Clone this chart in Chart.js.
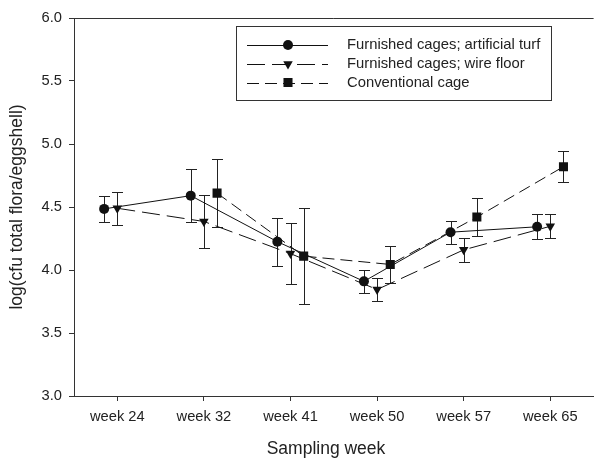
<!DOCTYPE html>
<html>
<head>
<meta charset="utf-8">
<script src="https://cdn.jsdelivr.net/npm/chart.js@4/dist/chart.umd.min.js"></script>
<style>
html,body{margin:0;padding:0;background:#fff;overflow:hidden;width:596px;height:459px;}
#wrap{width:600px;height:459px;}
</style>
</head>
<body>
<div id="wrap"><canvas id="c" width="600" height="459"></canvas></div>
<script>
const categories = ['week 24','week 32','week 41','week 50','week 57','week 65'];
const yTicks = [3.0, 3.5, 4.0, 4.5, 5.0, 5.5, 6.0];
const turf    = [4.485, 4.59, 4.225, 3.91, 4.30, 4.343];
const turfErr = [0.105, 0.21, 0.19, 0.09, 0.09, 0.10];
const wire    = [4.49, 4.385, 4.13, 3.845, 4.16, 4.347];
const wireErr = [0.13, 0.21, 0.24, 0.09, 0.095, 0.097];
const conv    = [null, 4.61, 4.11, 4.044, 4.42, 4.82];
const convErr = [null, 0.27, 0.38, 0.145, 0.15, 0.125];
const seriesLabels = ['Furnished cages; artificial turf','Furnished cages; wire floor','Conventional cage'];
const xTitle = 'Sampling week';
const yTitle = 'log(cfu total flora/eggshell)';

const FONT = "'Liberation Sans', Arial, Helvetica, sans-serif";
const INK = '#222';
const AXIS = '#333';

function pts(vals, shift){ return vals.map((v,i)=>({x:i+shift, y:v})); }

const errorBars = {
  id:'errorBars',
  beforeDatasetsDraw(chart){
    const ctx = chart.ctx, ys = chart.scales.y;
    ctx.save();
    ctx.strokeStyle = '#222';
    ctx.lineWidth = 1;
    chart.data.datasets.forEach((ds,di)=>{
      const meta = chart.getDatasetMeta(di);
      ds.errors.forEach((e,i)=>{
        const v = ds.data[i].y;
        if(v==null || e==null) return;
        const el = meta.data[i];
        const x = Math.round(el.x)+0.5;
        const t = Math.round(ys.getPixelForValue(v+e))+0.5;
        const b = Math.round(ys.getPixelForValue(v-e))+0.5;
        ctx.beginPath();
        ctx.moveTo(x,t); ctx.lineTo(x,b);
        ctx.moveTo(x-5.5,t); ctx.lineTo(x+5.5,t);
        ctx.moveTo(x-5.5,b); ctx.lineTo(x+5.5,b);
        ctx.stroke();
      });
    });
    ctx.restore();
  }
};

const frame = {
  id:'frame',
  afterDraw(chart){
    const ctx = chart.ctx, a = chart.chartArea;
    ctx.save();
    ctx.strokeStyle = AXIS; ctx.lineWidth = 1;
    ctx.beginPath();
    const top = Math.round(a.top)+0.5;
    ctx.moveTo(a.left, top); ctx.lineTo(a.right, top);
    ctx.stroke();
    // x axis title
    ctx.fillStyle = INK;
    ctx.font = "17.5px " + FONT;
    ctx.textAlign = 'center'; ctx.textBaseline = 'middle';
    ctx.fillText(xTitle, 326, 449);
    ctx.restore();
  }
};

const lineLegend = {
  id:'lineLegend',
  afterDraw(chart){
    const ctx = chart.ctx;
    ctx.save();
    ctx.strokeStyle = AXIS; ctx.lineWidth = 1;
    ctx.strokeRect(236.5, 26.5, 315, 74);
    const rows = [45, 64, 82.5];
    chart.data.datasets.forEach((ds,i)=>{
      const y = rows[i];
      ctx.strokeStyle = '#111'; ctx.lineWidth = 1;
      ctx.setLineDash(ds.borderDash || []);
      ctx.beginPath(); ctx.moveTo(247, Math.round(y)+0.5); ctx.lineTo(328, Math.round(y)+0.5); ctx.stroke();
      ctx.setLineDash([]);
      ctx.fillStyle = '#111';
      Chart.helpers.drawPoint(ctx, {pointStyle: ds.pointStyle, radius: ds.pointRadius, rotation: ds.pointRotation||0, borderWidth: 0}, 288, y);
      ctx.fillStyle = INK;
      ctx.font = "14.8px " + FONT;
      ctx.textAlign = 'left'; ctx.textBaseline = 'middle';
      ctx.fillText(ds.label, 347, y);
    });
    ctx.restore();
  }
};

const common = {borderColor:'#111', backgroundColor:'#111', borderWidth:1, pointBorderWidth:0, pointBackgroundColor:'#111', showLine:true, spanGaps:false, tension:0};

new Chart(document.getElementById('c'), {
  type:'scatter',
  data:{
    datasets:[
      Object.assign({}, common, {label:seriesLabels[0], data:pts(turf,-0.152), errors:turfErr, pointStyle:'circle', pointRadius:5, borderDash:[]}),
      Object.assign({}, common, {label:seriesLabels[1], data:pts(wire,0), errors:wireErr, pointStyle:'triangle', pointRotation:180, pointRadius:5.5, borderDash:[18,7]}),
      Object.assign({}, common, {label:seriesLabels[2], data:pts(conv,0.152), errors:convErr, pointStyle:'rect', pointRadius:6.4, borderDash:[12,6]})
    ]
  },
  plugins:[errorBars, frame, lineLegend],
  options:{
    responsive:false,
    animation:false,
    layout:{padding:{top:18, right:0, left:0, bottom:0}},
    plugins:{legend:{display:false}, tooltip:{enabled:false}},
    scales:{
      x:{
        type:'linear', min:-0.5, max:5.5,
        afterBuildTicks(s){ s.ticks = categories.map((c,i)=>({value:i})); },
        afterFit(s){ s.height = 63; },
        ticks:{callback:(v)=>categories[v], color:INK, font:{family:FONT, size:14.7}, padding:7, maxRotation:0, autoSkip:false},
        grid:{drawOnChartArea:false, tickLength:5, color:AXIS},
        border:{color:AXIS, width:1},
        title:{display:false}
      },
      y:{
        type:'linear', min:3, max:6,
        afterBuildTicks(s){ s.ticks = yTicks.map(v=>({value:v})); },
        afterFit(s){ s.width = 74; },
        ticks:{callback:(v)=>Number(v).toFixed(1), color:INK, font:{family:FONT, size:14.7}, padding:7},
        grid:{drawOnChartArea:false, tickLength:5, color:AXIS},
        border:{color:AXIS, width:1},
        title:{display:true, text:yTitle, color:INK, font:{family:FONT, size:17.5}, padding:{top:7, bottom:0}}
      }
    }
  }
});
</script>
</body>
</html>
